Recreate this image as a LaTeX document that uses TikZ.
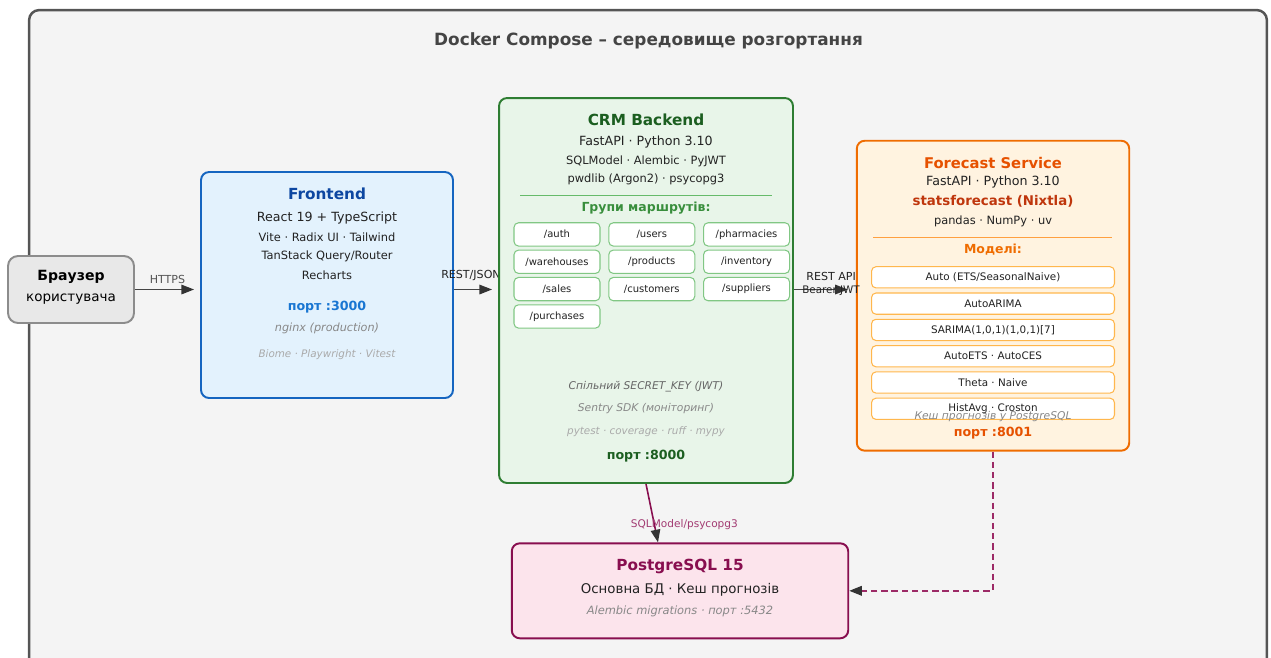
\documentclass[tikz,border=0pt]{standalone}
\usepackage{fontspec}
\setmainfont{DejaVu Sans}
\usetikzlibrary{arrows.meta, positioning, calc}

\definecolor{outerline}{HTML}{555555}
\definecolor{outerfill}{HTML}{F4F4F4}
\definecolor{titlegray}{HTML}{444444}
\definecolor{txtdark}{HTML}{222222}
\definecolor{notedark}{HTML}{666666}
\definecolor{notemid}{HTML}{888888}
\definecolor{notelight}{HTML}{AAAAAA}
\definecolor{arrowgray}{HTML}{444444}
\definecolor{tipgray}{HTML}{333333}
\definecolor{brfill}{HTML}{E8E8E8}
\definecolor{brline}{HTML}{8C8C8C}
\definecolor{fefill}{HTML}{E3F2FD}
\definecolor{feline}{HTML}{1565C0}
\definecolor{fetitle}{HTML}{0D47A1}
\definecolor{feport}{HTML}{1976D2}
\definecolor{befill}{HTML}{E8F5E9}
\definecolor{beline}{HTML}{2E7D32}
\definecolor{betitle}{HTML}{1B5E20}
\definecolor{begroup}{HTML}{388E3C}
\definecolor{routeline}{HTML}{81C784}
\definecolor{besep}{HTML}{66BB6A}
\definecolor{fcfill}{HTML}{FFF3E0}
\definecolor{fcline}{HTML}{EF6C00}
\definecolor{fctitle}{HTML}{E65100}
\definecolor{fcstats}{HTML}{BF360C}
\definecolor{modelline}{HTML}{FFB74D}
\definecolor{fcsep}{HTML}{FFA040}
\definecolor{pgfill}{HTML}{FCE4EC}
\definecolor{pgline}{HTML}{880E4F}
\definecolor{dbarrow}{HTML}{9C2A66}
\definecolor{dblabel}{HTML}{A23B72}

\begin{document}
\begin{tikzpicture}[
    x=0.02cm, y=0.02cm,
    box/.style={rectangle, draw, rounded corners=0.16cm, line width=1.1pt, inner sep=0pt},
    head/.style={font=\bfseries\fontsize{8.7}{10}\selectfont},
    main/.style={font=\fontsize{7.2}{8.5}\selectfont, text=txtdark},
    sub/.style={font=\fontsize{6.5}{7.5}\selectfont, text=txtdark},
    port/.style={font=\bfseries\fontsize{7.2}{8.5}\selectfont},
    note/.style={font=\itshape\fontsize{6.1}{7.2}\selectfont},
    lbl/.style={font=\fontsize{6.3}{7.2}\selectfont, inner sep=1pt},
    route/.style={rectangle, draw=routeline, fill=white, rounded corners=0.09cm, line width=0.6pt, minimum width=1.72cm, minimum height=0.466cm, inner sep=0pt, font=\fontsize{5.7}{6.5}\selectfont, text=txtdark},
    model/.style={rectangle, draw=modelline, fill=white, rounded corners=0.09cm, line width=0.6pt, minimum width=4.86cm, minimum height=0.425cm, inner sep=0pt, font=\fontsize{5.9}{7}\selectfont, text=txtdark},
    arrow/.style={-{Triangle[length=7.2pt, width=5.4pt, color=tipgray]}, line width=0.9pt, draw=arrowgray}
]
    \useasboundingbox (0,0) rectangle (1271,-657);

    % Docker Compose
    \node[box, draw=outerline, fill=outerfill, line width=1.4pt, rounded corners=0.2cm, minimum width=24.76cm, minimum height=13.8cm] (compose) at (648,-355) {};
    \node[font=\bfseries\fontsize{9.6}{11}\selectfont, text=titlegray] (title) at (648.5,-41) {Docker Compose – середовище розгортання};

    % Browser
    \node[box, draw=brline, fill=brfill, rounded corners=0.2cm, minimum width=2.52cm, minimum height=1.34cm] (br) at (71,-289.5) {};
    \node[font=\bfseries\fontsize{8}{9.5}\selectfont] (brname) at (71,-277) {Браузер};
    \node[font=\fontsize{7.7}{9}\selectfont] (bruser) at (71,-299) {користувача};

    % Frontend
    \node[box, draw=feline, fill=fefill, minimum width=5.04cm, minimum height=4.52cm] (fe) at (327,-285) {};
    \node[head, text=fetitle] (fename) at (327,-194) {Frontend};
    \node[main] (fe1) at (327,-218) {React 19 + TypeScript};
    \node[sub] (fe2) at (327,-237) {Vite · Radix UI · Tailwind};
    \node[sub] (fe3) at (327,-256) {TanStack Query/Router};
    \node[sub] (fe4) at (327,-275) {Recharts};
    \node[port, text=feport] (feport) at (327,-307) {порт :3000};
    \node[note, text=notemid, font=\itshape\fontsize{6.4}{7.5}\selectfont] (fenginx) at (327,-328) {nginx (production)};
    \node[note, text=notelight, font=\itshape\fontsize{5.9}{7}\selectfont] (fetools) at (327,-355) {Biome · Playwright · Vitest};

    % label over frontend, under backend
    \node[lbl, text=txtdark] (restjson) at (471,-275) {REST/JSON};

    % CRM Backend
    \node[box, draw=beline, fill=befill, minimum width=5.88cm, minimum height=7.7cm] (be) at (646,-290.5) {};
    \node[head, text=betitle] (bename) at (646,-120) {CRM Backend};
    \node[main] (be1) at (646,-142) {FastAPI · Python 3.10};
    \node[sub] (be2) at (646,-161) {SQLModel · Alembic · PyJWT};
    \node[sub] (be3) at (646,-179) {pwdlib (Argon2) · psycopg3};
    \draw[besep, line width=0.5pt] (520,-195) -- (772,-195);
    \node[font=\bfseries\fontsize{7.1}{8.5}\selectfont, text=begroup] (begroups) at (646,-208) {Групи маршрутів:};

    % Routes
    \node[route] (r1) at (557,-234.4) {/auth};
    \node[route, right=0.155cm of r1] (r2) {/users};
    \node[route, right=0.155cm of r2] (r3) {/pharmacies};
    \node[route, below=0.06cm of r1] (r4) {/warehouses};
    \node[route, below=0.06cm of r2] (r5) {/products};
    \node[route, below=0.06cm of r3] (r6) {/inventory};
    \node[route, below=0.06cm of r4] (r7) {/sales};
    \node[route, below=0.06cm of r5] (r8) {/customers};
    \node[route, below=0.06cm of r6] (r9) {/suppliers};
    \node[route, below=0.06cm of r7] (r10) {/purchases};

    \node[note, text=notedark] (besecret) at (646,-387) {Спільний SECRET\_KEY (JWT)};
    \node[note, text=notemid] (besentry) at (646,-409) {Sentry SDK (моніторинг)};
    \node[note, text=notelight, font=\itshape\fontsize{5.9}{7}\selectfont] (betools) at (646,-432) {pytest · coverage · ruff · mypy};
    \node[port, text=betitle] (beport) at (646,-456) {порт :8000};

    % Forecast Service
    \node[box, draw=fcline, fill=fcfill, minimum width=5.45cm, minimum height=6.2cm] (fc) at (993,-295.7) {};
    \node[head, text=fctitle, font=\bfseries\fontsize{8.4}{10}\selectfont] (fcname) at (993,-163) {Forecast Service};
    \node[main] (fc1) at (993,-182) {FastAPI · Python 3.10};
    \node[font=\bfseries\fontsize{7.6}{9}\selectfont, text=fcstats] (fc2) at (993,-201) {statsforecast (Nixtla)};
    \node[sub] (fc3) at (993,-221) {pandas · NumPy · uv};
    \draw[fcsep, line width=0.5pt] (873,-237.3) -- (1112,-237.3);
    \node[font=\bfseries\fontsize{7.1}{8.5}\selectfont, text=fcline] (fcmodels) at (993,-249.5) {Моделі:};

    % Models
    \node[model] (m1) at (993,-277.3) {Auto (ETS/SeasonalNaive)};
    \node[model, below=0.08cm of m1] (m2) {AutoARIMA};
    \node[model, below=0.08cm of m2] (m3) {SARIMA(1,0,1)(1,0,1)[7]};
    \node[model, below=0.08cm of m3] (m4) {AutoETS · AutoCES};
    \node[model, below=0.08cm of m4] (m5) {Theta · Naive};
    \node[model, below=0.08cm of m5] (m6) {HistAvg · Croston};

    \node[note, text=notemid] (fccache) at (993,-417) {Кеш прогнозів у PostgreSQL};
    \node[port, text=fctitle] (fcport) at (993,-433) {порт :8001};

    % PostgreSQL
    \node[box, draw=pgline, fill=pgfill, minimum width=6.73cm, minimum height=1.9cm] (pg) at (680,-590.8) {};
    \node[head, text=pgline] (pgname) at (680,-566) {PostgreSQL 15};
    \node[font=\fontsize{7.6}{9}\selectfont, text=txtdark] (pg1) at (680,-590) {Основна БД · Кеш прогнозів};
    \node[note, text=notemid, font=\itshape\fontsize{6.5}{7.5}\selectfont] (pg2) at (680,-611) {Alembic migrations · порт :5432};

    % Arrows
    \draw[arrow, shorten >=0.12cm] (br.east) -- node[above=2pt, lbl, text=outerline] (https) {HTTPS} (br.east -| fe.west);
    \draw[arrow, shorten >=0.12cm] (fe.east |- br.east) -- (be.west |- br.east);
    \draw[arrow, shorten >=0.16cm] (be.east |- br.east) -- node[pos=0.6, above=3.5pt, lbl, text=txtdark] (restapi) {REST API} node[pos=0.6, yshift=-0.5pt, lbl, text=txtdark, font=\fontsize{5.9}{7}\selectfont] (bearer) {Bearer JWT} (fc.west |- br.east);
    \draw[arrow, draw=pgline] (be.south) -- node[pos=0.7, xshift=0.6cm, lbl, text=dblabel, font=\fontsize{6}{7}\selectfont] (sqllbl) {SQLModel/psycopg3} ($(pg.north west)!0.435!(pg.north east)$);
    \draw[arrow, draw=dbarrow, line width=1.1pt, dash pattern=on 3.6pt off 2.2pt] (fc.south) |- (pg.east);

\end{tikzpicture}
\end{document}
